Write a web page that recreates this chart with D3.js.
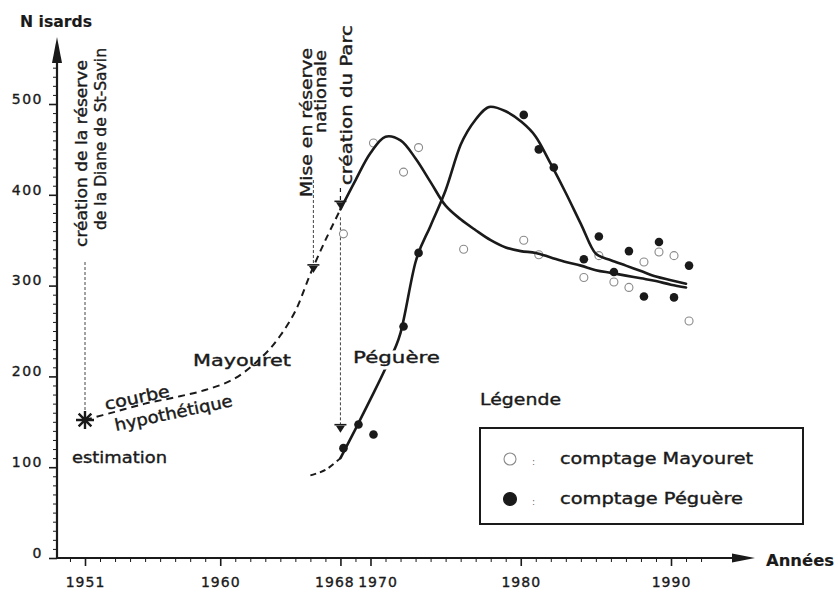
<!DOCTYPE html>
<html>
<head>
<meta charset="utf-8">
<script src="https://cdn.jsdelivr.net/npm/d3@7"></script>
<style>
  html, body { margin: 0; padding: 0; background: #fff; }
  svg { display: block; font-family: "DejaVu Sans", sans-serif; }
</style>
</head>
<body>
<svg id="chart" width="838" height="592"></svg>
<script>
// ---- Counts (N isards) per survey year ----
const mayouretYears  = [1968, 1970, 1972, 1973, 1976, 1980, 1981, 1984, 1985, 1986, 1987, 1988, 1989, 1990, 1991];
const mayouretCounts = [357, 457, 425, 452, 340, 350, 334, 309, 333, 304, 298, 326, 337, 333, 261];

const peguereYears  = [1968, 1969, 1970, 1972, 1973, 1980, 1981, 1982, 1984, 1985, 1986, 1987, 1988, 1989, 1990, 1991];
const peguereCounts = [121, 147, 136, 255, 336, 488, 450, 430, 329, 354, 315, 338, 288, 348, 287, 322];

// ---- Hypothetical Mayouret curve (dashed), from the 1951 estimate ----
const hypoYears  = [1951, 1953, 1955, 1957, 1959, 1961, 1963, 1964, 1965, 1966, 1967, 1968];
const hypoValues = [152, 161, 170, 177, 185, 198, 225, 245, 272, 313, 350, 384];

// ---- Fitted trend curves ----
const mayTrendYears  = [1968, 1969, 1970, 1971, 1972, 1973, 1974, 1975, 1976, 1977, 1978, 1979,
                        1980, 1981, 1982, 1983, 1984, 1985, 1986, 1987, 1988, 1989, 1990, 1991];
const mayTrendValues = [384, 416, 446, 464, 460, 440, 414, 388, 373, 361, 350, 342,
                        338, 336, 331, 326, 322, 317, 314, 311, 308, 305, 301, 298];

const pegStartYears  = [1966, 1967, 1968];
const pegStartValues = [91, 97, 110];

const pegTrendYears  = [1968, 1969, 1970, 1971, 1972, 1973, 1974, 1975, 1976, 1977, 1978, 1979,
                        1980, 1981, 1982, 1983, 1984, 1985, 1986, 1987, 1988, 1989, 1990, 1991];
const pegTrendValues = [110, 142, 175, 209, 248, 326, 366, 405, 455, 483, 497, 492,
                        481, 464, 434, 402, 368, 335, 328, 322, 316, 310, 306, 302];

// ---- Estimate and events ----
const estimateYear = 1951;
const estimateValue = 152;
const miseYear = 1966.2, miseTarget = 314;
const parcYear = 1968, parcTargetMay = 384, parcTargetPeg = 138;

// ---- Axis ticks ----
const xTickYears  = [1951, 1960, 1968, 1970, 1980, 1990];
const xMinorYears = d3.range(1950, 1993);
const yTickValues = [0, 100, 200, 300, 400, 500];
const yMinorValues = d3.range(10, 550, 10);

const legendItems = [
  { label: "comptage Mayouret", filled: false },
  { label: "comptage Péguère", filled: true }
];

// counts are plotted at survey time, a little after the start of the year
const surveyOffset = 0.2;

const svg = d3.select("#chart");
const ink = "#1a1a1a";

const x = d3.scaleLinear().domain([1951, 1990]).range([85, 671]);
const y = d3.scaleLinear().domain([0, 500]).range([558, 104]);
const x0 = 57, y0 = y(0);

// ---------- helpers ----------
function label(str, px, py, len, opts = {}) {
  const make = (halo) => {
    const t = svg.append("text")
      .attr("transform", `translate(${px},${py}) rotate(${opts.rotate || 0})`)
      .attr("font-size", opts.size || 16.5)
      .attr("font-weight", opts.bold ? "bold" : "normal")
      .attr("fill", halo ? "#fff" : ink)
      .attr("stroke", halo ? "#fff" : ink)
      .attr("stroke-width", halo ? 7 : (opts.bold ? 0.15 : 0.4))
      .attr("stroke-linejoin", "round")
      .text(str);
    if (len) t.attr("textLength", len).attr("lengthAdjust", "spacingAndGlyphs");
    return t;
  };
  if (opts.halo) make(true);
  return make(false);
}
function arrowHead(g, px, tipY) {
  g.append("path")
    .attr("d", `M${px - 6},${tipY - 8}H${px + 6}`)
    .attr("stroke", ink).attr("stroke-width", 1.6).attr("fill", "none");
  g.append("path")
    .attr("d", `M${px - 4.5},${tipY - 7}L${px + 4.5},${tipY - 7}L${px},${tipY}Z`)
    .attr("fill", ink);
}

// ---------- axes ----------
const axes = svg.append("g");

const yAxis = d3.axisLeft(y).tickValues(yTickValues).tickSize(8).tickPadding(6);
const yG = axes.append("g").attr("transform", `translate(${x0},0)`).call(yAxis);
yG.select(".domain").remove();
yG.selectAll(".tick line").attr("stroke", ink).attr("stroke-width", 1.6);
yG.selectAll(".tick text").attr("font-family", "DejaVu Sans").attr("font-size", 14)
  .attr("letter-spacing", 1.5).attr("fill", ink).attr("stroke", ink).attr("stroke-width", 0.35)
  .attr("dy", "-0.05em");

const yMinor = d3.axisLeft(y).tickValues(yMinorValues.filter(v => v % 100 !== 0)).tickSize(4).tickFormat("");
const yMG = axes.append("g").attr("transform", `translate(${x0},0)`).call(yMinor);
yMG.select(".domain").remove();
yMG.selectAll(".tick line").attr("stroke", ink).attr("stroke-width", 1);

const xAxis = d3.axisBottom(x).tickValues(xTickYears).tickFormat(d3.format("d")).tickSize(8).tickPadding(11);
const xG = axes.append("g").attr("transform", `translate(0,${y0})`).call(xAxis);
xG.select(".domain").remove();
xG.selectAll(".tick line").attr("stroke", ink).attr("stroke-width", 1.6);
xG.selectAll(".tick text").attr("font-family", "DejaVu Sans").attr("font-size", 14)
  .attr("letter-spacing", 1).attr("fill", ink).attr("stroke", ink).attr("stroke-width", 0.35)
  .attr("dx", d => d === 1968 ? -6 : d === 1970 ? 7 : 0);

const xMinor = d3.axisBottom(x).tickValues(xMinorYears.filter(v => !xTickYears.includes(v))).tickSize(4).tickFormat("");
const xMG = axes.append("g").attr("transform", `translate(0,${y0})`).call(xMinor);
xMG.select(".domain").remove();
xMG.selectAll(".tick line").attr("stroke", ink).attr("stroke-width", 1).attr("y1", -1);

// axis lines with arrow heads
axes.append("line").attr("x1", x0).attr("x2", x0).attr("y1", y0 + 1).attr("y2", 50)
  .attr("stroke", ink).attr("stroke-width", 2.2);
axes.append("path").attr("d", `M${x0},37L${x0 - 5},63L${x0 + 5},63Z`).attr("fill", ink);
axes.append("line").attr("x1", x0 - 1).attr("x2", 740).attr("y1", y0).attr("y2", y0)
  .attr("stroke", ink).attr("stroke-width", 2.2);
axes.append("path").attr("d", `M755,${y0}L732,${y0 - 4.5}L732,${y0 + 4.5}Z`).attr("fill", ink);

label("N isards", 20, 27, 72, { bold: true, size: 16 });
label("Années", 766, 566, 68, { bold: true, size: 16 });

// ---------- event annotations ----------
const notes = svg.append("g");
function vline(px, ya, yb) {
  notes.append("line").attr("x1", px).attr("x2", px).attr("y1", ya).attr("y2", yb)
    .attr("stroke", "#444").attr("stroke-width", 1).attr("stroke-dasharray", "3,2");
}

// 1951: Diane de St-Savin reserve
label("création de la réserve", x(1951) + 2, 247, 187, { rotate: -90 });
label("de la Diane de St-Savin", x(1951) + 21, 230, 182, { rotate: -90 });
vline(x(1951), 262, y(estimateValue) - 9);

// national reserve
label("Mise en réserve", x(miseYear) - 1, 197, 149, { rotate: -90 });
label("nationale", x(miseYear) + 13, 133, 83, { rotate: -90 });
vline(x(miseYear), 180, y(miseTarget) - 8);
arrowHead(notes, x(miseYear), y(miseTarget));

// national park
label("création du Parc", x(parcYear) + 12, 185, 160, { rotate: -90 });
notes.append("line").attr("x1", x(parcYear)).attr("x2", x(parcYear))
  .attr("y1", 188).attr("y2", y(parcTargetMay) - 8)
  .attr("stroke", ink).attr("stroke-width", 1.2).attr("stroke-dasharray", "4,4");
arrowHead(notes, x(parcYear), y(parcTargetMay));
vline(x(parcYear), y(parcTargetMay) + 8, y(parcTargetPeg) - 8);
arrowHead(notes, x(parcYear), y(parcTargetPeg));

// ---------- open circles (Mayouret), under the curves ----------
svg.append("g").selectAll("circle")
  .data(d3.zip(mayouretYears, mayouretCounts))
  .join("circle")
  .attr("cx", d => x(d[0] + surveyOffset)).attr("cy", d => y(d[1])).attr("r", 4)
  .attr("fill", "#fff").attr("stroke", "#8a8a8a").attr("stroke-width", 1.1);

// ---------- curves ----------
const curves = svg.append("g").attr("fill", "none").attr("stroke", ink);
const smooth = d3.line().x(d => x(d[0])).y(d => y(d[1])).curve(d3.curveCatmullRom.alpha(0.5));
const mono = d3.line().x(d => x(d[0])).y(d => y(d[1])).curve(d3.curveMonotoneX);

curves.append("path").datum(d3.zip(hypoYears, hypoValues))
  .attr("d", smooth).attr("stroke-width", 2).attr("stroke-dasharray", "7,5");
curves.append("path").datum(d3.zip(pegStartYears, pegStartValues))
  .attr("d", smooth).attr("stroke-width", 2).attr("stroke-dasharray", "6,4");
curves.append("path").datum(d3.zip(mayTrendYears, mayTrendValues))
  .attr("d", smooth).attr("stroke-width", 2.6).attr("stroke-linecap", "round");
curves.append("path").datum(d3.zip(pegTrendYears, pegTrendValues))
  .attr("d", mono).attr("stroke-width", 2.6).attr("stroke-linecap", "round");

// ---------- filled circles (Péguère) ----------
svg.append("g").selectAll("circle")
  .data(d3.zip(peguereYears, peguereCounts))
  .join("circle")
  .attr("cx", d => x(d[0] + surveyOffset)).attr("cy", d => y(d[1])).attr("r", 4.3)
  .attr("fill", ink);

// ---------- 1951 estimate (asterisk) ----------
const sx = x(estimateYear), sy = y(estimateValue), sr = 9;
const star = d3.range(4).map(i => {
  const a = i * Math.PI / 4;
  return `M${sx - sr * Math.cos(a)},${sy - sr * Math.sin(a)}L${sx + sr * Math.cos(a)},${sy + sr * Math.sin(a)}`;
}).join("");
svg.append("path").attr("d", star).attr("stroke", ink).attr("stroke-width", 2.4).attr("fill", "none");

// ---------- curve labels ----------
label("courbe", 106, 410, 66, { rotate: -12 });
label("hypothétique", 116, 431, 120, { rotate: -12 });
label("estimation", 72, 463, 95);
label("Mayouret", 193, 366, 98);
label("Péguère", 353, 363, 87, { halo: true });

// ---------- legend ----------
label("Légende", 480, 405, 81);
const lg = svg.append("g");
lg.append("rect").attr("x", 480).attr("y", 428).attr("width", 323).attr("height", 96)
  .attr("fill", "none").attr("stroke", ink).attr("stroke-width", 2);
const lgRow = lg.selectAll("g.row").data(legendItems).join("g").attr("class", "row")
  .attr("transform", (d, i) => `translate(0,${459 + i * 40})`);
lgRow.append("circle").attr("cx", 510).attr("cy", 0).attr("r", d => d.filled ? 6.5 : 6)
  .attr("fill", d => d.filled ? ink : "#fff")
  .attr("stroke", d => d.filled ? ink : "#8a8a8a").attr("stroke-width", 1.1);
lgRow.append("text").attr("x", 532).attr("y", 6).attr("font-size", 9).attr("fill", "#666").text(":");
lgRow.append("text").attr("x", 560).attr("y", 5)
  .attr("font-size", 16.5).attr("fill", ink).attr("stroke", ink).attr("stroke-width", 0.4)
  .attr("textLength", (d, i) => i === 0 ? 193 : 183).attr("lengthAdjust", "spacingAndGlyphs")
  .text(d => d.label);
</script>
</body>
</html>
